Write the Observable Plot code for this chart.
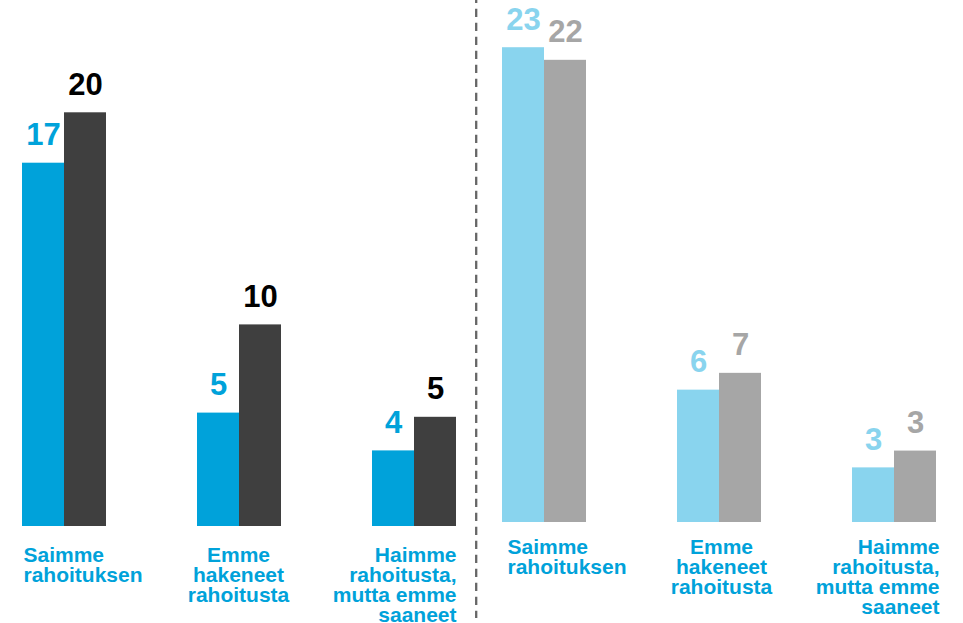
<!DOCTYPE html>
<html>
<head>
<meta charset="utf-8">
<script src="https://cdn.jsdelivr.net/npm/d3@7"></script>
<script src="https://cdn.jsdelivr.net/npm/@observablehq/plot@0.6"></script>
<style>
  html, body { margin: 0; padding: 0; background: #fff; }
  #chart { position: relative; width: 963px; height: 623px; overflow: hidden; font-family: "Liberation Sans", Arial, sans-serif; }
  #left, #right, #divider { position: absolute; top: 0; }
  #left { left: 0; }
  #right { left: 477px; }
  #divider { left: 0; pointer-events: none; }
</style>
</head>
<body>
<div id="chart">
  <div id="left"></div>
  <div id="right"></div>
  <svg id="divider" width="963" height="623"><line x1="476.2" x2="476.2" y1="0" y2="618" stroke="#666" stroke-width="2.3" stroke-dasharray="8.3 5.7" stroke-dashoffset="5.3"></line></svg>
</div>
<script>
// Categories (line breaks as shown under the bars)
const categories = ["Saimme\nrahoituksen", "Emme\nhakeneet\nrahoitusta", "Haimme\nrahoitusta,\nmutta emme\nsaaneet"];
const series = ["sarja1", "sarja2"];

// Left panel values (bar heights; labels shown rounded)
const leftBlue = [17.3, 5.4, 3.6];
const leftGrey = [19.7, 9.6, 5.2];

// Right panel values
const rightBlue = [22.6, 6.3, 2.6];
const rightGrey = [22.0, 7.1, 3.4];

const FONT = "Liberation Sans, Arial, sans-serif";
const catColor = "#00A2DA";

function panel({blue, grey, colors, labelColors, width, marginLeft, marginRight, marginTop, marginBottom, yMax, catDy, catDx}) {
  const rows = [];
  categories.forEach((c, i) => {
    rows.push({group: c, series: series[0], value: blue[i]});
    rows.push({group: c, series: series[1], value: grey[i]});
  });
  const cats = categories.map(c => ({group: c, label: c}));
  const anchors = [["start", "bottom-left"], ["middle", "bottom"], ["end", "bottom-right"]];
  return Plot.plot({
    width, height: 623,
    marginLeft, marginRight, marginTop, marginBottom,
    style: {fontFamily: FONT, background: "transparent", overflow: "visible"},
    fx: {domain: categories, paddingInner: 0.52, paddingOuter: 0, axis: null},
    x: {domain: series, padding: 0, axis: null},
    y: {domain: [0, yMax], axis: null},
    color: {domain: series, range: colors},
    marks: [
      Plot.barY(rows, {fx: "group", x: "series", y: "value", fill: "series", inset: 0}),
      ...series.map((s, k) => Plot.text(rows.filter(r => r.series === s), {
        fx: "group", x: "series", y: "value",
        text: d => String(Math.round(d.value)),
        lineAnchor: "bottom", dy: -18,
        fontSize: 31, fontWeight: "bold", fill: labelColors[k]
      })),
      ...cats.map((c, i) => Plot.text([c], {
        fx: "group", text: "label",
        frameAnchor: anchors[i][1], textAnchor: anchors[i][0],
        lineAnchor: "top", lineHeight: 0.95,
        dy: catDy, dx: catDx[i],
        fontSize: 21, fontWeight: "bold", fill: catColor
      }))
    ]
  });
}

document.getElementById("left").append(panel({
  blue: leftBlue, grey: leftGrey,
  colors: ["#00A2DA", "#3F3F3F"], labelColors: ["#00A2DA", "#000000"],
  width: 477, marginLeft: 22, marginRight: 21, marginTop: 1, marginBottom: 97, yMax: 25,
  catDy: 21, catDx: [1, -1, 0]
}));

document.getElementById("right").append(panel({
  blue: rightBlue, grey: rightGrey,
  colors: ["#89D4EE", "#A6A6A6"], labelColors: ["#89D4EE", "#A6A6A6"],
  width: 486, marginLeft: 25, marginRight: 27, marginTop: 1, marginBottom: 101, yMax: 24.8,
  catDy: 17, catDx: [5, 2, 3]
}));
</script>
</body>
</html>
